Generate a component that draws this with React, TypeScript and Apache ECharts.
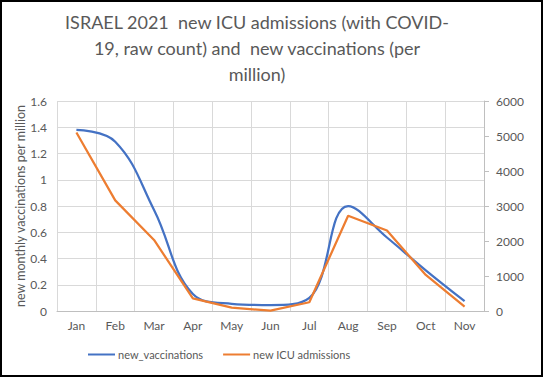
import React, { useEffect, useRef } from "react";
import * as echarts from "echarts";

const months = ["Jan", "Feb", "Mar", "Apr", "May", "Jun", "Jul", "Aug", "Sep", "Oct", "Nov"];
const newVaccinations = [1.38, 1.29, 0.77, 0.13, 0.055, 0.045, 0.1, 0.8, 0.56, 0.31, 0.075];
const newIcuAdmissions = [5100, 3160, 2030, 360, 95, 10, 250, 2720, 2300, 1030, 125];
const titleLines = [
  "ISRAEL 2021  new ICU admissions (with COVID-",
  "19, raw count) and  new vaccinations (per",
  "million)",
];
const leftAxisName = "new monthly vaccinations per million";

const FONT = "Lato, 'Open Sans', sans-serif";
const TXT = "#595959";

export default function App() {
  const ref = useRef<HTMLDivElement>(null);
  useEffect(() => {
    document.body.style.margin = "0";
    const chart = echarts.init(ref.current!, null, { renderer: "svg" });
    chart.setOption({
      animation: false,
      backgroundColor: "#ffffff",
      textStyle: { fontFamily: FONT, color: TXT },
      title: {
        text: titleLines.join("\n"),
        left: 252,
        top: 4,
        textAlign: "center",
        textStyle: { fontFamily: FONT, fontSize: 18, fontWeight: "normal", color: TXT, lineHeight: 26 },
      },
      legend: {
        left: 83,
        top: 344,
        icon: "rect",
        itemWidth: 27,
        itemHeight: 2,
        itemGap: 20,
        textStyle: { fontFamily: FONT, fontSize: 11, color: TXT, padding: [0, 0, 0, -2] },
        data: ["new_vaccinations", "new ICU admissions"],
      },
      grid: { left: 57, right: 59, top: 101, bottom: 66 },
      xAxis: {
        type: "category",
        data: months,
        boundaryGap: true,
        axisLine: { lineStyle: { color: "#bfbfbf", width: 1 } },
        axisTick: { show: false },
        axisLabel: { fontFamily: FONT, fontSize: 12, color: TXT, margin: 8 },
        splitLine: { show: true, lineStyle: { color: "#d9d9d9", width: 1 } },
      },
      yAxis: [
        {
          type: "value",
          min: 0,
          max: 1.6,
          interval: 0.2,
          name: leftAxisName,
          nameLocation: "middle",
          nameGap: 30,
          nameMoveOverlap: false,
          nameTextStyle: { fontFamily: FONT, fontSize: 12.5, color: TXT },
          axisLine: { show: false },
          axisTick: { show: false },
          axisLabel: { fontFamily: FONT, fontSize: 12, color: TXT, margin: 10 },
          splitLine: { show: true, lineStyle: { color: "#d9d9d9", width: 1 } },
        },
        {
          type: "value",
          min: 0,
          max: 6000,
          interval: 1000,
          position: "right",
          axisLine: { show: true, lineStyle: { color: "#bfbfbf", width: 1 } },
          axisTick: { show: true, length: 5, lineStyle: { color: "#bfbfbf" } },
          axisLabel: {
            fontFamily: FONT,
            fontSize: 12,
            color: TXT,
            margin: 12,
            formatter: (v: number) => String(v),
          },
          splitLine: { show: false },
        },
      ],
      series: [
        {
          name: "new_vaccinations",
          type: "line",
          yAxisIndex: 0,
          data: newVaccinations,
          smooth: 0.4,
          showSymbol: false,
          symbol: "none",
          lineStyle: { color: "#4472C4", width: 2.25 },
          itemStyle: { color: "#4472C4" },
        },
        {
          name: "new ICU admissions",
          type: "line",
          yAxisIndex: 1,
          data: newIcuAdmissions,
          smooth: false,
          showSymbol: false,
          symbol: "none",
          lineStyle: { color: "#ED7D31", width: 2.25 },
          itemStyle: { color: "#ED7D31" },
        },
      ],
    });
    return () => chart.dispose();
  }, []);
  return (
    <div style={{ position: "relative", width: 543, height: 377 }}>
      <div ref={ref} style={{ position: "absolute", left: 0, top: 0, width: 543, height: 377 }} />
      <div
        style={{
          position: "absolute",
          left: 0,
          top: 0,
          width: 543,
          height: 377,
          boxSizing: "border-box",
          border: "2px solid #000",
          pointerEvents: "none",
        }}
      />
    </div>
  );
}
